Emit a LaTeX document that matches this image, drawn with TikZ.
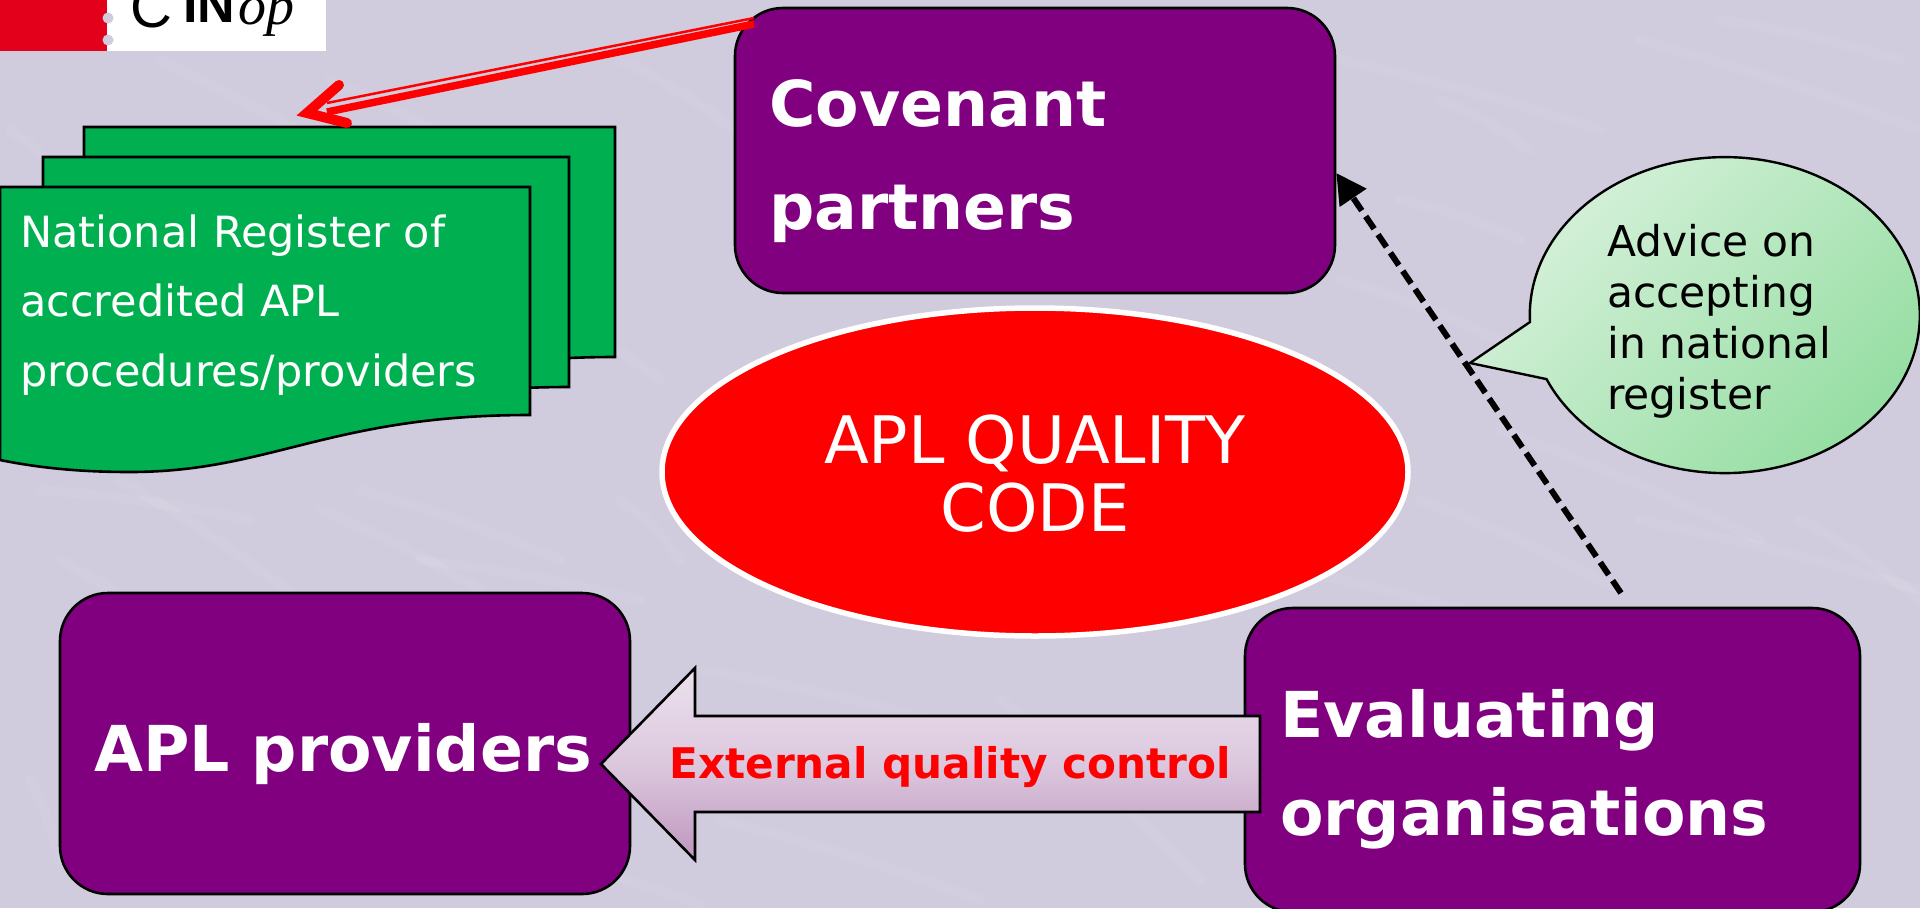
\documentclass[tikz,border=0pt]{standalone}
\usepackage{fontspec}
\setmainfont{DejaVu Sans}
\newfontfamily\logosans{Liberation Sans}
\newfontfamily\logoserif{Liberation Serif}
\usetikzlibrary{arrows.meta,shapes.geometric,calc}
\definecolor{bgl}{HTML}{D0CBDD}
\definecolor{plum}{HTML}{800080}
\definecolor{pagegreen}{HTML}{00B050}
\definecolor{logored}{HTML}{E2001A}
\definecolor{bubbletop}{HTML}{D8F1DC}
\definecolor{bubblebot}{HTML}{96DEA3}
\definecolor{arrowtop}{HTML}{EBE1ED}
\definecolor{arrowmid}{HTML}{DCC8DE}
\definecolor{arrowbot}{HTML}{BE96BE}
\tikzset{
  x=1pt,y=-1pt,
  plumbox/.style={draw=black,line width=2.6pt,fill=plum,rounded corners=48pt},
  pagebox/.style={draw=black,line width=2.6pt,fill=pagegreen},
  boldwhite/.style={anchor=base west,inner sep=0pt,text=white,align=left,font=\bfseries\fontsize{63.3}{103}\selectfont},
  pagetext/.style={anchor=base west,inner sep=0pt,text=white,align=left,font=\fontsize{43}{69.5}\selectfont},
  bubbletext/.style={anchor=base west,inner sep=0pt,text=black,align=left,font=\fontsize{42.4}{51}\selectfont},
  streak/.style={white,opacity=.07,line width=10pt,line cap=round},
}
\begin{document}
\begin{tikzpicture}
\useasboundingbox (0,0) rectangle (1920,908);
\begin{scope}
\clip (0,0) rectangle (1920,908);
\fill[bgl] (0,0) rectangle (1920,908);
% background streaks
\foreach \sx/\sy/\ex/\ey in {
  160/60/400/190, 330/80/560/200, 620/60/735/130, 40/490/250/520, 120/480/300/600,
  320/510/480/590, 360/490/560/560, 420/560/640/600, 620/500/680/560, 60/560/180/640,
  1340/60/1600/130, 1640/40/1920/130, 1400/200/1520/240, 1340/280/1500/340, 1500/430/1760/540,
  1420/500/1620/590, 1640/520/1920/590, 1000/700/1200/880, 700/670/930/720, 720/820/980/900,
  1440/100/1530/150, 1800/520/1920/600, 10/130/60/180, 560/320/660/380, 30/780/58/860,
  1720/20/1900/60, 1240/560/1500/620, 540/860/700/905}
  \draw[streak] (\sx,\sy) .. controls ($(\sx,\sy)!.4!(\ex,\ey)+(4,-5)$) and ($(\sx,\sy)!.7!(\ex,\ey)+(3,-3)$) .. (\ex,\ey);

% logo
\fill[white] (0,0) rectangle (326,51);
\fill[logored] (0,0) rectangle (107,51);
\fill[bgl] (108,18) circle (5.5pt) (108,40) circle (5.5pt);
\node[anchor=base west,inner sep=0pt,text=black,font=\logosans\fontsize{58}{58}\selectfont] (logoc) at (130,27) {C};
\node[anchor=base west,inner sep=0pt,text=black,font=\logosans\bfseries\fontsize{52}{52}\selectfont] (logoin) at (183,22) {IN};
\node[anchor=base west,inner sep=0pt,text=black,font=\logoserif\itshape\fontsize{56}{56}\selectfont] (logoop) at (238,24) {op};

% pages
\path[pagebox] (84,127) -- (615,127) -- (615,357) .. controls (415,357) and (355,412) .. (215,412) -- (84,400) -- cycle;
\path[pagebox] (43,157) -- (569,157) -- (569,387) .. controls (369,387) and (309,442) .. (173,442) -- (43,430) -- cycle;
\path[pagebox] (0,187) -- (530,187) -- (530,415) .. controls (330,415) and (270,472) .. (130,472) .. controls (80,472) and (40,468) .. (0,460) -- cycle;
\node[pagetext] (register) at (20,386) {National Register of\\accredited APL\\procedures/providers};
\coordinate (regin) at (307,113);

% purple boxes
\node[plumbox,minimum width=600pt,minimum height=285pt,inner sep=0pt] (covenant) at (1035,150.5) {};
\node[plumbox,minimum width=570pt,minimum height=301pt,inner sep=0pt] (providers) at (345,743.5) {};
\node[plumbox,minimum width=615pt,minimum height=304pt,inner sep=0pt] (evaluating) at (1552.5,760) {};
\node[boldwhite] (covtext) at (769,229) {Covenant\\partners};
\node[boldwhite] (provtext) at (94,771) {APL providers};
\node[boldwhite,font=\bfseries\fontsize{63.3}{98}\selectfont] (evaltext) at (1280,835) {Evaluating\\organisations};

% ellipse
\node[ellipse,draw=white,line width=5.5pt,fill=red,minimum width=746pt,minimum height=328pt,inner sep=0pt] (code) at (1035,472) {};
\node[anchor=base,inner sep=0pt,text=white,align=center,font=\fontsize{65.5}{68}\selectfont] (codetext) at (1035,531) {APL QUALITY\\CODE};

% block arrow
\path[draw=black,line width=2.6pt,top color=arrowtop,bottom color=arrowbot,middle color=arrowmid]
  (601,764) -- (695,668) -- (695,716) -- (1260,716) -- (1260,812) -- (695,812) -- (695,860) -- cycle;
\node[anchor=base west,inner sep=0pt,text=red,font=\bfseries\fontsize{42.2}{50}\selectfont] (eqc) at (669,778) {External quality control};

% red double arrow
\coordinate (covout1) at (754,18);
\coordinate (covout2) at (754,24);
\coordinate (regin1) at (327,103);
\coordinate (regin2) at (327,112);
\draw[red,line width=2.5pt] (covout1) -- (regin1);
\draw[red,line width=7.5pt] (covout2) -- (regin2);
\coordinate (barb1) at (339,85);
\coordinate (barb2) at (347,123);
\draw[red,line width=10pt,line cap=round,line join=miter] (barb1) -- (regin) -- (barb2);

% dashed arrow
\coordinate (evalout) at (1621,593);
\draw[black,line width=6pt,dash pattern=on 15pt off 7pt,-{Triangle[length=30pt,width=31pt]}] (evalout) -- (covenant.east |- 0,173);

% speech bubble
\path[draw=black,line width=2.4pt,shading=axis,top color=bubbletop,bottom color=bubblebot,shading angle=45]
  (1530,322) arc[start angle=177.5,end angle=516.1,x radius=195,y radius=158] -- (1470,363) -- cycle;
\node[bubbletext] (advice) at (1607,409) {Advice on\\accepting\\in national\\register};
\end{scope}
\end{tikzpicture}
\end{document}
